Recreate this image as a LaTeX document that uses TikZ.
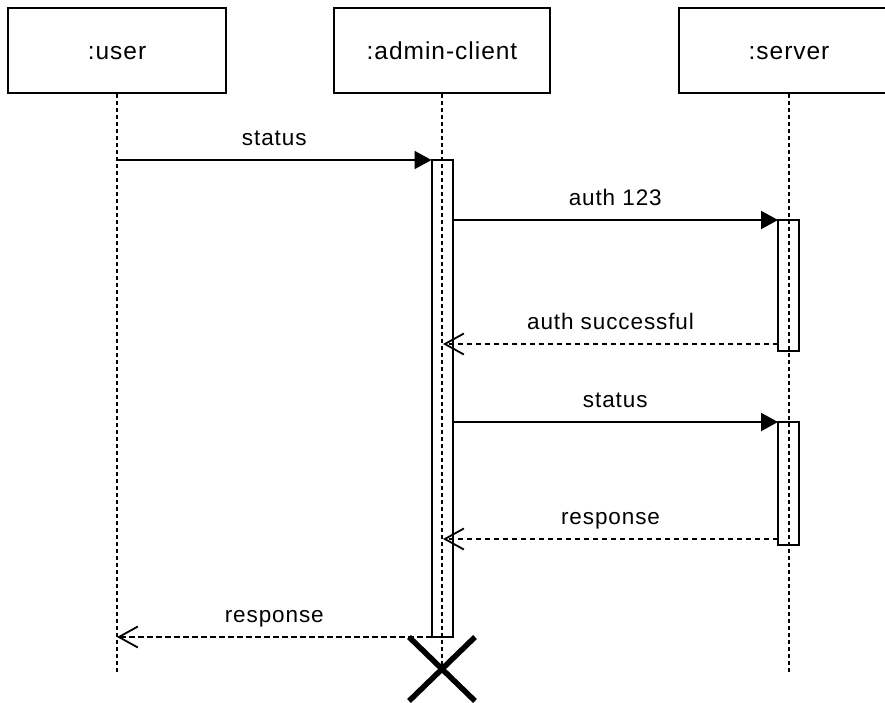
\documentclass[tikz,border=0pt]{standalone}
\usepackage{fontspec}
\setmainfont{Liberation Sans}[LetterSpace=4.0]
\usetikzlibrary{arrows.meta,calc}

\tikzset{
  objbox/.style={draw=black, line width=2pt, rectangle, inner sep=0pt,
    minimum height=85pt, text height=17pt, text depth=0pt,
    font=\fontsize{24.5}{28}\selectfont},
  actbar/.style={draw=black, line width=2pt, rectangle, inner sep=0pt,
    outer sep=0pt, minimum width=21pt},
  lifeline/.style={draw=black, line width=1.8pt, dash pattern=on 4pt off 3pt},
  callmsg/.style={draw=black, line width=2pt,
    -{Triangle[length=17pt, width=18pt]}},
  replymsg/.style={draw=black, line width=1.8pt, dash pattern=on 5.5pt off 3.5pt,
    -{Straight Barb[length=19pt, width=21pt, line width=1.8pt]}},
  msglabel/.style={anchor=base, yshift=15pt, inner sep=0pt,
    font=\fontsize{22.5}{26}\selectfont},
  destroymark/.style={draw=black, line width=5.5pt}
}

\begin{document}
\begin{tikzpicture}[x=1pt, y=-1pt]
  \useasboundingbox (0,0) rectangle (885,702);

  % participants
  \node[objbox, minimum width=218pt] (user)   at (117,50.5) {:user};
  \node[objbox, minimum width=216pt] (admin)  at (442,50.5) {:admin-client};
  \node[objbox, minimum width=220pt] (server) at (789,50.5) {:server};

  % lifeline ends
  \coordinate (userEnd)   at (117,673);
  \coordinate (adminEnd)  at (442,669);
  \coordinate (serverEnd) at (789,673);

  % activation bars
  \node[actbar, minimum height=477pt] (adminAct)   at (442,398.5) {};
  \node[actbar, minimum height=131pt] (serverActA) at (788.5,285.5) {};
  \node[actbar, minimum height=123pt] (serverActB) at (788.5,483.5) {};

  % lifelines
  \draw[lifeline] (user.south)   -- (userEnd);
  \draw[lifeline] (admin.south)  -- (adminEnd);
  \draw[lifeline] (server.south) -- (serverEnd);

  % message anchor points
  \coordinate (userStatus)   at (117,160);
  \coordinate (adminOkTip)   at (443,344);
  \coordinate (adminRespTip) at (443,539);
  \coordinate (userRespTip)  at (117,637);

  % messages
  \draw[callmsg] (userStatus) -- node[msglabel]{status} (adminAct.north west);
  \draw[callmsg] (adminAct.east |- serverActA.north) -- node[msglabel]{auth 123} (serverActA.north west);
  \draw[replymsg] (serverActA.west |- adminOkTip) -- node[msglabel]{auth successful} (adminOkTip);
  \draw[callmsg] (adminAct.east |- serverActB.north) -- node[msglabel]{status} (serverActB.north west);
  \draw[replymsg] (serverActB.west |- adminRespTip) -- node[msglabel]{response} (adminRespTip);
  \draw[replymsg] (adminAct.south west) -- node[msglabel]{response} (userRespTip);

  % destruction mark
  \draw[destroymark] ($(adminEnd)+(-33,-32)$) -- ($(adminEnd)+(33,32)$);
  \draw[destroymark] ($(adminEnd)+(33,-32)$) -- ($(adminEnd)+(-33,32)$);
\end{tikzpicture}
\end{document}
